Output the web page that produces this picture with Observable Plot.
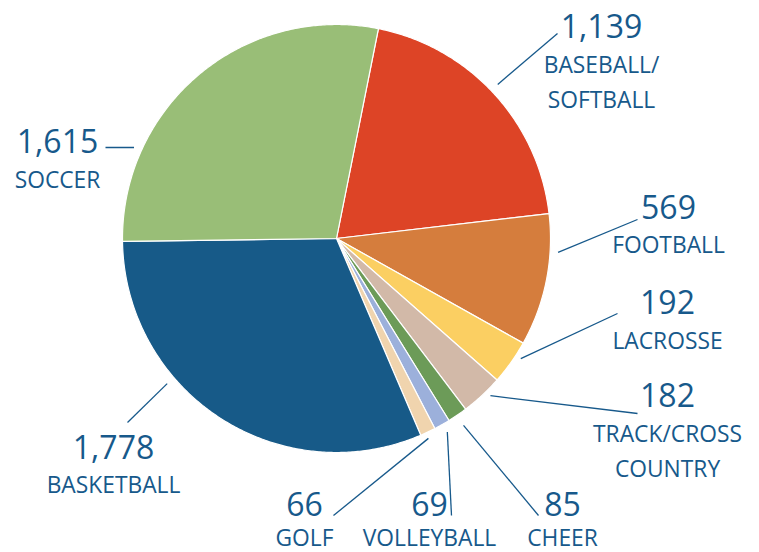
<!DOCTYPE html>
<html><head><meta charset="utf-8">
<script src="https://cdn.jsdelivr.net/npm/d3@7"></script>
<script src="https://cdn.jsdelivr.net/npm/@observablehq/plot@0.6"></script>
<style>body{margin:0;background:#fff}</style>
</head><body><div id="chart"></div>
<script>
// ---- data ----
const sports = ["BASEBALL/\nSOFTBALL","FOOTBALL","LACROSSE","TRACK/CROSS\nCOUNTRY","CHEER","VOLLEYBALL","GOLF","BASKETBALL","SOCCER"];
const counts = [1139, 569, 192, 182, 85, 69, 66, 1778, 1615];
const colors = ["#dd4426","#d57d3d","#fbcf62","#d2b9a8","#6c9b58","#9cb0db","#f0d4ae","#175a88","#99be77"];

// ---- layout (annotation placement, pixel units) ----
const W = 759, H = 552;
const cx = 336, cy = 238, R = 214, startDeg = 11.3;
const leaderAngle = [46.3, 93.6, 123.1, 135.6, 145.8, 150.2, 155.3, 229.4, 294.2];
const leaderR = [223, 222, 220, 220, 226, 223, 220, 223, 222];
const leaderEndX = [557, 637, 617, 637, 538, 451, 333, 127, 105];
const leaderEndY = [33, 219, 313, 413, 515, 515, 515, 422, 147];
const labelX = [601, 668, 667, 667, 562, 429, 304, 113, 57];
const numberY = [37, 218, 313, 406, 515, 515, 515, 458, 152];
const nameY = [107, 252, 348, 476, 545, 545, 545, 492, 187];
const textColor = "#17598b";

const rad = d => d * Math.PI / 180;
const arcs = d3.pie().sort(null).startAngle(rad(startDeg)).endAngle(rad(startDeg) + 2 * Math.PI)(counts);

// wedge outlines computed from the pie layout
const wedgePts = [];
arcs.forEach((a, i) => {
  const k = sports[i];
  wedgePts.push({k, x: cx, y: cy});
  const n = Math.max(2, Math.ceil((a.endAngle - a.startAngle) / rad(0.5)));
  for (let j = 0; j <= n; j++) {
    const t = a.startAngle + (a.endAngle - a.startAngle) * j / n;
    wedgePts.push({k, x: cx + R * Math.sin(t), y: cy - R * Math.cos(t)});
  }
  wedgePts.push({k, x: cx, y: cy});
});

const labels = sports.map((s, i) => ({
  name: s,
  value: counts[i],
  x1: cx + leaderR[i] * Math.sin(rad(leaderAngle[i])),
  y1: cy - leaderR[i] * Math.cos(rad(leaderAngle[i])),
  x2: leaderEndX[i], y2: leaderEndY[i],
  lx: labelX[i], ny: numberY[i], my: nameY[i]
}));

const chart = Plot.plot({
  width: W, height: H,
  margin: 0,
  style: {background: "#fff", fontFamily: "'Open Sans', sans-serif"},
  x: {domain: [0, W], range: [0, W], axis: null},
  y: {domain: [0, H], range: [0, H], axis: null},
  color: {domain: sports, range: colors},
  marks: [
    Plot.line(wedgePts, {x: "x", y: "y", z: "k", fill: "k", stroke: "#fff", strokeWidth: 1.2, strokeLinejoin: "round"}),
    Plot.link(labels, {x1: "x1", y1: "y1", x2: "x2", y2: "y2", stroke: textColor, strokeWidth: 1.3}),
    Plot.text(labels, {x: "lx", y: "ny", text: d => d3.format(",")(d.value), fill: textColor, fontSize: 32, lineAnchor: "bottom", textAnchor: "middle"}),
    Plot.text(labels, {x: "lx", y: "my", text: "name", fill: textColor, fontSize: 22.8, lineHeight: 1.535, lineAnchor: "bottom", textAnchor: "middle"})
  ]
});
document.getElementById("chart").appendChild(chart);
</script>
</body></html>
